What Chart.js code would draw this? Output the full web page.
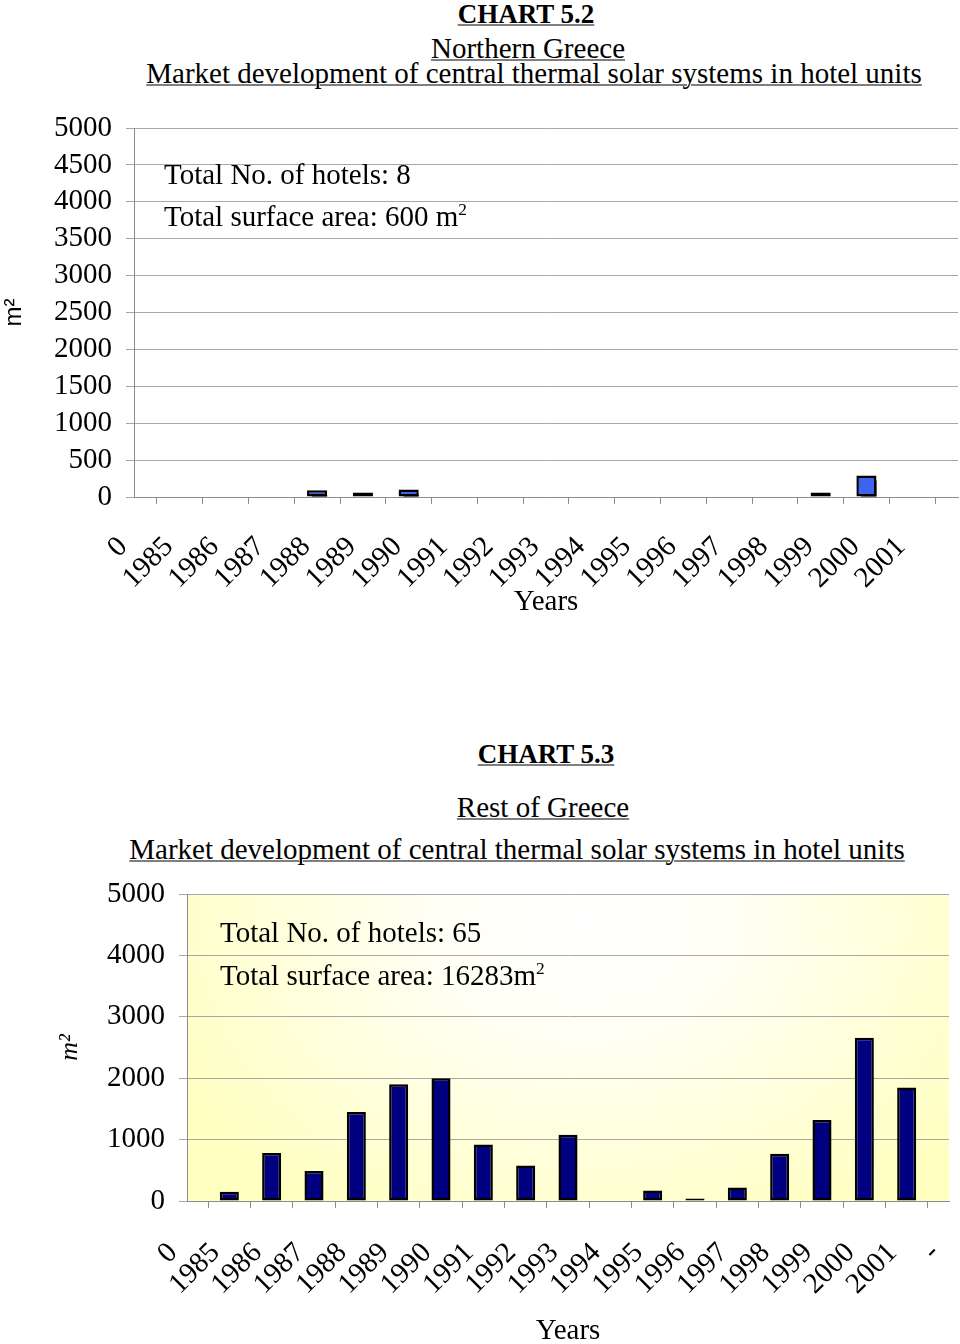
<!DOCTYPE html>
<html>
<head>
<meta charset="utf-8">
<script src="https://cdn.jsdelivr.net/npm/chart.js@4.4.1/dist/chart.umd.min.js"></script>
<style>
  body { margin: 0; background: #fff; }
  #page { position: relative; width: 960px; height: 1344px; overflow: hidden; font-family: 'Liberation Serif', 'Times New Roman', serif; color: #000; }
  .t { position: absolute; white-space: nowrap; line-height: 1; font-size: 29px; }
  .c { transform: translate(-50%, -50%); }
  .l { transform: translateY(-50%); }
  .u { text-decoration: underline; text-decoration-thickness: 1px; text-underline-offset: 2px; }
  .b { font-weight: bold; font-size: 27px; }
  sup { font-size: 60%; vertical-align: 0.6em; line-height: 0; }
  .box { position: absolute; left: 0; width: 960px; }
</style>
</head>
<body>
<div id="page">
  <div class="t c u b" style="left:526px; top:14px;">CHART 5.2</div>
  <div class="t c u" style="left:528px; top:48px;">Northern Greece</div>
  <div class="t c u" style="left:534px; top:73px;">Market development of central thermal solar systems in hotel units</div>

  <div class="box" style="top:100px; height:520px;"><canvas id="chartNorth"></canvas></div>
  <div class="t l" style="left:164px; top:174px;">Total No. of hotels: 8</div>
  <div class="t l" style="left:164px; top:216px;">Total surface area: 600 m<sup>2</sup></div>

  <div class="t c u b" style="left:546px; top:754px;">CHART 5.3</div>
  <div class="t c u" style="left:543px; top:807px;">Rest of Greece</div>
  <div class="t c u" style="left:517px; top:849px;">Market development of central thermal solar systems in hotel units</div>

  <div class="box" style="top:860px; height:484px;"><canvas id="chartRest"></canvas></div>
  <div class="t l" style="left:220px; top:932px;">Total No. of hotels: 65</div>
  <div class="t l" style="left:220px; top:975px;">Total surface area: 16283m<sup>2</sup></div>
</div>

<script>
// categories (last slot is an empty / "-" label like in the original sheet)
const northLabels = ['0', '1985', '1986', '1987', '1988', '1989', '1990', '1991', '1992', '1993',
  '1994', '1995', '1996', '1997', '1998', '1999', '2000', '2001', ''];
const restLabels = ['0', '1985', '1986', '1987', '1988', '1989', '1990', '1991', '1992', '1993',
  '1994', '1995', '1996', '1997', '1998', '1999', '2000', '2001', '-'];

// m2 of collectors installed per year
const northValues = [0, 0, 0, 0, 90, 60, 100, 0, 0, 0, 0, 0, 0, 0, 0, 60, 290, 0, 0];
const restValues = [0, 150, 780, 490, 1450, 1900, 2000, 920, 580, 1080, 0, 170, 40, 220, 770, 1320, 2660, 1850, 0];

const northTicks = [0, 500, 1000, 1500, 2000, 2500, 3000, 3500, 4000, 4500, 5000];
const restTicks = [0, 1000, 2000, 3000, 4000, 5000];

const serif = "'Liberation Serif', 'Times New Roman', serif";
const gridGray = '#a8a8a8';
const axisGray = '#8c8c8c';

// drop shadow behind the bars of the first chart
const barShadow = {
  id: 'barShadow',
  beforeDatasetDraw(chart) {
    const ctx = chart.ctx;
    ctx.save();
    ctx.shadowColor = '#000';
    ctx.shadowOffsetX = 5;
    ctx.shadowOffsetY = 5;
    ctx.shadowBlur = 0;
  },
  afterDatasetDraw(chart) {
    chart.ctx.restore();
  }
};

// pale yellow "from centre" fill of the second plot area
const plotFill = {
  id: 'plotFill',
  beforeDraw(chart) {
    const { ctx, chartArea: a } = chart;
    const cx = a.left + (a.right - a.left) * 0.52;
    const cy = a.top + 30;
    ctx.save();
    ctx.translate(cx, cy);
    ctx.scale(1, 0.75);
    const g = ctx.createRadialGradient(0, 0, 0, 0, 0, 470);
    g.addColorStop(0, '#ffffff');
    g.addColorStop(0.35, '#fffff2');
    g.addColorStop(1, '#ffffc0');
    ctx.fillStyle = g;
    ctx.fillRect(a.left - cx, (a.top - cy) / 0.75, a.right - a.left, (a.bottom - a.top) / 0.75);
    ctx.restore();
  }
};

function makeChart(id, labels, values, ticks, opt) {
  return new Chart(document.getElementById(id), {
    type: 'bar',
    data: {
      labels,
      datasets: [{
        data: values,
        backgroundColor: opt.barColor,
        borderColor: '#000',
        borderWidth: 2.5,
        borderSkipped: false,
        categoryPercentage: 1,
        barPercentage: opt.barPct,
        clip: 0
      }]
    },
    options: {
      responsive: true,
      maintainAspectRatio: false,
      animation: false,
      events: [],
      layout: { padding: opt.padding },
      plugins: { legend: { display: false }, tooltip: { enabled: false } },
      scales: {
        x: {
          type: 'category',
          offset: false,
          border: { color: axisGray, width: 1 },
          grid: { drawOnChartArea: false, drawTicks: true, tickLength: 7, color: axisGray },
          ticks: {
            autoSkip: false, minRotation: 45, maxRotation: 45,
            padding: opt.xPad, labelOffset: opt.xShift, color: '#000',
            font: { family: serif, size: 29 }
          },
          title: {
            display: true, text: 'Years', color: '#000',
            font: { family: serif, size: 29 }, padding: { top: 0, bottom: opt.yearsPad }
          },
          afterFit: (s) => {
            s.height = opt.xHeight;
            s.paddingLeft = 0;
            s.paddingRight = 0;
          }
        },
        y: {
          min: 0, max: 5000,
          afterBuildTicks: (s) => { s.ticks = ticks.map(v => ({ value: v })); },
          border: { color: axisGray, width: 1 },
          grid: { color: gridGray, tickLength: 8, lineWidth: 1 },
          ticks: {
            autoSkip: false,
            padding: 14, color: '#000', font: { family: serif, size: 29 },
            callback: (v) => String(v)
          },
          title: {
            display: true, text: 'm²', color: '#000',
            font: opt.yTitleFont, padding: { top: 0, bottom: 0 }
          },
          afterFit: (s) => {
            s.width = opt.yWidth;
            s.paddingTop = 0;
            s.paddingBottom = 0;
          }
        }
      }
    },
    plugins: opt.plugins
  });
}

makeChart('chartNorth', northLabels, northValues, northTicks, {
  barColor: '#3c64f0',
  barPct: 0.44,
  padding: { top: 28, right: 2, left: 0, bottom: 0 },
  xPad: 26,
  xShift: -11,
  xHeight: 123,
  yearsPad: 0,
  yWidth: 134,
  yTitleFont: { family: "'Liberation Sans', Arial, sans-serif", size: 24 },
  plugins: [barShadow]
});

makeChart('chartRest', restLabels, restValues, restTicks, {
  barColor: '#000080',
  barPct: 0.45,
  padding: { top: 34, right: 11, left: 55, bottom: 0 },
  xPad: 28,
  xShift: -14,
  xHeight: 143,
  yearsPad: -5,
  yWidth: 132,
  yTitleFont: { family: serif, size: 26, style: 'italic' },
  plugins: [plotFill]
});
</script>
</body>
</html>
